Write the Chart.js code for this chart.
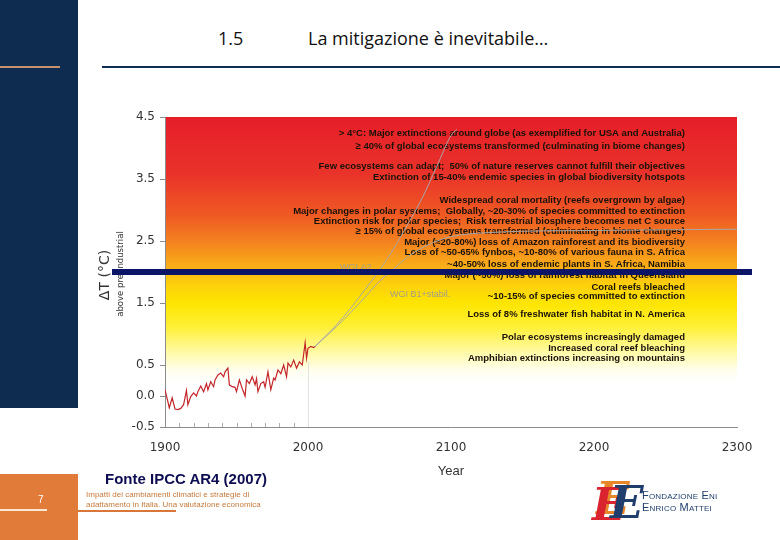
<!DOCTYPE html>
<html lang="it">
<head>
<meta charset="utf-8">
<title>La mitigazione è inevitabile</title>
<script src="https://cdn.jsdelivr.net/npm/chart.js@4.4.1/dist/chart.umd.min.js"></script>
<style>
    body { margin: 0; width: 780px; height: 540px; position: relative; overflow: hidden; background: #fff; font-family: 'Liberation Sans', Arial, sans-serif; }
    .abs { position: absolute; }
    #fasciaSx { left: 0; top: 0; width: 78px; height: 408px; background: #0e2b50; }
    #trattino { left: 0; top: 66px; width: 60px; height: 2px; background: #c8906c; }
    #linea { left: 102px; top: 66px; width: 678px; height: 2px; background: #0e2b50; }
    .titolo { top: 26px; font-family: 'Liberation Sans Narrow', 'Open Sans', sans-serif; font-size: 18px; color: #111; }
    #grafico { left: 0; top: 0; }
    #barra { left: 112px; top: 269px; width: 640px; height: 6px; background: #0c1466; z-index: 5; }
    #fasciaBasso { left: 0; top: 474px; width: 78px; height: 66px; background: #e07b39; }
    #lineaBianca { left: 0; top: 509px; width: 47px; height: 2px; background: #fbe6d6; }
    #pagina { left: 38px; top: 494px; font-size: 10px; color: #fff; }
    #fonte { left: 105px; top: 470px; font-size: 15px; font-weight: bold; color: #0d0d52; }
    #nota { left: 86px; top: 490px; font-family: 'Liberation Sans Narrow', sans-serif; font-size: 8px; line-height: 10px; color: #c47a3c; }
    #sottolinea { left: 78px; top: 510px; width: 98px; height: 2px; background: #d9773a; }
    #logo { left: 592px; top: 474px; width: 150px; height: 54px; }
    .ee { position: absolute; top: 0; font-family: 'DejaVu Serif', serif; font-style: italic; font-weight: bold; font-size: 44px; line-height: 50px; }
    #logoTesto { left: 50px; top: 15px; font-size: 11px; line-height: 12px; color: #1f3e6b; font-variant: small-caps; letter-spacing: 0.2px; }
</style>
</head>
<body>
<div id="fasciaSx" class="abs"></div>
<div id="trattino" class="abs"></div>
<div id="linea" class="abs"></div>
<div class="abs titolo" style="left:218px">1.5</div>
<div class="abs titolo" style="left:308px">La mitigazione è inevitabile…</div>

<canvas id="grafico" class="abs" width="780" height="540"></canvas>
<div id="barra" class="abs"></div>

<div id="fasciaBasso" class="abs"></div>
<div id="lineaBianca" class="abs"></div>
<div id="pagina" class="abs">7</div>
<div id="fonte" class="abs">Fonte IPCC AR4 (2007)</div>
<div id="nota" class="abs">Impatti dei cambiamenti climatici e strategie di<br>adattamento in Italia. Una valutazione economica</div>
<div id="sottolinea" class="abs"></div>
<div id="logo" class="abs">
    <span class="ee" style="left:4px;color:#e8862a">E</span>
    <span class="ee" style="left:0px;top:6px;color:#d9232e">E</span>
    <span class="ee" style="left:18px;top:4px;color:#1f3e6b">E</span>
    <div id="logoTesto" class="abs">Fondazione Eni<br>Enrico Mattei</div>
</div>

<script>
const histYears = [1900, 1902, 1903, 1905, 1907, 1909, 1911, 1913, 1915, 1916, 1918, 1920, 1922, 1923, 1925, 1927, 1929, 1930, 1932, 1934,
    1935, 1937, 1939, 1941, 1942, 1944, 1945, 1947, 1949, 1950, 1952, 1954, 1956, 1957, 1959, 1961, 1963, 1964, 1965, 1967,
    1969, 1970, 1972, 1974, 1976, 1977, 1979, 1981, 1983, 1985, 1986, 1988, 1990, 1992, 1994, 1996, 1998, 1999, 2000, 2002,
    2004, 2005];
const histTemp = [0.10, -0.09, -0.19, -0.03, -0.21, -0.22, -0.20, -0.14, 0.09, -0.14, -0.01, 0.05, 0.00, 0.07, 0.16, 0.07, 0.20, 0.10, 0.23, 0.15,
    0.26, 0.34, 0.37, 0.31, 0.39, 0.45, 0.18, 0.15, 0.14, 0.07, 0.26, 0.12, 0.00, 0.26, 0.20, 0.31, 0.18, 0.28, 0.07, 0.20,
    0.23, 0.14, 0.39, 0.10, 0.29, 0.26, 0.42, 0.36, 0.50, 0.31, 0.53, 0.47, 0.58, 0.45, 0.55, 0.50, 0.86, 0.61, 0.77, 0.80,
    0.78, 0.80];

const a2Years = [2005, 2020, 2030, 2040, 2050, 2060, 2070, 2080, 2090, 2100, 2104];
const a2Temp = [0.80, 1.15, 1.42, 1.72, 2.03, 2.38, 2.78, 3.20, 3.70, 4.20, 4.30];

const b1Years = [2005, 2020, 2030, 2040, 2050, 2060, 2070, 2085, 2100, 2130, 2200, 2300];
const b1Temp = [0.80, 1.12, 1.35, 1.60, 1.85, 2.05, 2.25, 2.45, 2.57, 2.64, 2.67, 2.69];

const xTicks = [1900, 2000, 2100, 2200, 2300];
const yTicks = [-0.5, 0.0, 0.5, 1.5, 2.5, 3.5, 4.5];
const minorTicks = [1910, 1920, 1930, 1940, 1950, 1960, 1970, 1980, 1990];

// Impatti (testo, livello di temperatura)
const impatti = [
    '> 4°C: Major extinctions around globe (as exemplified for USA and Australia)',
    '≥ 40% of global ecosystems transformed (culminating in biome changes)',
    'Few ecosystems can adapt;  50% of nature reserves cannot fulfill their objectives',
    'Extinction of 15-40% endemic species in global biodiversity hotspots',
    'Widespread coral mortality (reefs overgrown by algae)',
    'Major changes in polar systems;  Globally, ~20-30% of species committed to extinction',
    'Extinction risk for polar species;  Risk terrestrial biosphere becomes net C source',
    '≥ 15% of global ecosystems transformed (culminating in biome changes)',
    'Major (≈20-80%) loss of Amazon rainforest and its biodiversity',
    'Loss of ~50-65% fynbos, ~10-80% of various fauna in S. Africa',
    '~40-50% loss of endemic plants in S. Africa, Namibia',
    'Major (~50%) loss of rainforest habitat in Queensland',
    'Coral reefs bleached',
    '~10-15% of species committed to extinction',
    'Loss of 8% freshwater fish habitat in N. America',
    'Polar ecosystems increasingly damaged',
    'Increased coral reef bleaching',
    'Amphibian extinctions increasing on mountains'
];
const impattiTemp = [4.23, 4.03, 3.71, 3.52, 3.15, 2.97, 2.81, 2.65, 2.48, 2.31, 2.13, 1.94, 1.76, 1.61, 1.31, 0.95, 0.77, 0.61];

const punti = (xs, ys) => xs.map((x, i) => ({ x: x, y: ys[i] }));

// Sfondo sfumato rosso -> giallo -> bianco
const sfondo = {
    id: 'sfondo',
    beforeDraw(chart) {
        const { ctx, chartArea: a, scales: { y } } = chart;
        const top = y.getPixelForValue(4.5);
        const fine = y.getPixelForValue(0.2);
        const g = ctx.createLinearGradient(0, top, 0, fine);
        g.addColorStop(0.00, '#e61e28');
        g.addColorStop(0.21, '#e9322a');
        g.addColorStop(0.37, '#ef5a23');
        g.addColorStop(0.465, '#f3801f');
        g.addColorStop(0.558, '#f9ad18');
        g.addColorStop(0.628, '#fcd00c');
        g.addColorStop(0.698, '#fde500');
        g.addColorStop(0.79, '#fff03a');
        g.addColorStop(0.884, '#fffaa8');
        g.addColorStop(0.953, '#fffef0');
        g.addColorStop(1.00, '#ffffff');
        ctx.save();
        ctx.fillStyle = g;
        ctx.fillRect(a.left, top, a.right - a.left, fine - top);
        ctx.restore();
    },
    beforeDatasetsDraw(chart) {
        const { ctx, chartArea: a, scales: { x, y } } = chart;
        ctx.save();
        // tacche minori e linea del 2000
        ctx.strokeStyle = '#b0b0b0';
        ctx.lineWidth = 1;
        minorTicks.forEach(v => {
            const px = Math.round(x.getPixelForValue(v)) + 0.5;
            ctx.beginPath();
            ctx.moveTo(px, a.bottom);
            ctx.lineTo(px, a.bottom - 4);
            ctx.stroke();
        });
        const p2000 = Math.round(x.getPixelForValue(2000)) + 0.5;
        ctx.strokeStyle = '#e2e2e2';
        ctx.beginPath();
        ctx.moveTo(p2000, a.bottom);
        ctx.lineTo(p2000, y.getPixelForValue(0.55));
        ctx.stroke();

        // testi degli impatti
        ctx.fillStyle = '#1a1208';
        ctx.font = 'bold 9.5px "Liberation Sans", Arial, sans-serif';
        ctx.textAlign = 'right';
        ctx.textBaseline = 'middle';
        const xr = x.getPixelForValue(2263.6);
        impatti.forEach((t, i) => ctx.fillText(t, xr, y.getPixelForValue(impattiTemp[i])));

        // etichette scenari
        ctx.fillStyle = '#a29f86';
        ctx.font = '9px "Liberation Sans", Arial, sans-serif';
        ctx.textAlign = 'left';
        ctx.fillText('WGI A2', x.getPixelForValue(2022.4), y.getPixelForValue(2.07));
        ctx.fillText('WGI B1+stabil.', x.getPixelForValue(2057.3), y.getPixelForValue(1.63));

        // titolo asse y su due righe
        ctx.translate(a.left - 46, (a.top + a.bottom) / 2);
        ctx.rotate(-Math.PI / 2);
        ctx.textAlign = 'center';
        ctx.fillStyle = '#333';
        ctx.font = '14px "DejaVu Sans", sans-serif';
        ctx.fillText('ΔT (°C)', -3, -14);
        ctx.font = '8.5px "DejaVu Sans", sans-serif';
        ctx.fillText('above pre-industrial', -2, 2);
        ctx.restore();
    }
};

const ctx = document.getElementById('grafico').getContext('2d');
new Chart(ctx, {
    type: 'line',
    data: {
        datasets: [
            { label: 'Osservato', data: punti(histYears, histTemp), borderColor: '#c3262b', borderWidth: 1.2 },
            { label: 'WGI A2', data: punti(a2Years, a2Temp), borderColor: '#a8a8a8', borderWidth: 1, cubicInterpolationMode: 'monotone' },
            { label: 'WGI B1+stabil.', data: punti(b1Years, b1Temp), borderColor: '#a8a8a8', borderWidth: 1, cubicInterpolationMode: 'monotone' }
        ]
    },
    options: {
        responsive: false,
        animation: false,
        elements: { point: { radius: 0 }, line: { tension: 0 } },
        layout: { padding: { left: 100, right: 43, top: 117, bottom: 57 } },
        plugins: { legend: { display: false }, tooltip: { enabled: false } },
        scales: {
            x: {
                type: 'linear',
                min: 1900,
                max: 2300,
                afterBuildTicks: s => { s.ticks = xTicks.map(v => ({ value: v })); },
                afterFit: s => { s.height = 56; },
                ticks: { color: '#333', font: { family: 'DejaVu Sans', size: 12 }, padding: 6, callback: v => String(v) },
                grid: { display: false },
                border: { color: '#8c8c8c' },
                title: { display: true, text: 'Year', color: '#333', font: { family: 'Liberation Sans', size: 13 }, padding: { top: 1 } }
            },
            y: {
                min: -0.5,
                max: 4.5,
                afterBuildTicks: s => { s.ticks = yTicks.map(v => ({ value: v })); },
                afterFit: s => { s.width = 65; },
                ticks: { color: '#333', font: { family: 'DejaVu Sans', size: 12 }, padding: 5, callback: v => v.toFixed(1) },
                grid: { drawOnChartArea: false, tickLength: 5, color: '#8c8c8c' },
                border: { color: '#8c8c8c' }
            }
        }
    },
    plugins: [sfondo]
});
</script>
</body>
</html>
